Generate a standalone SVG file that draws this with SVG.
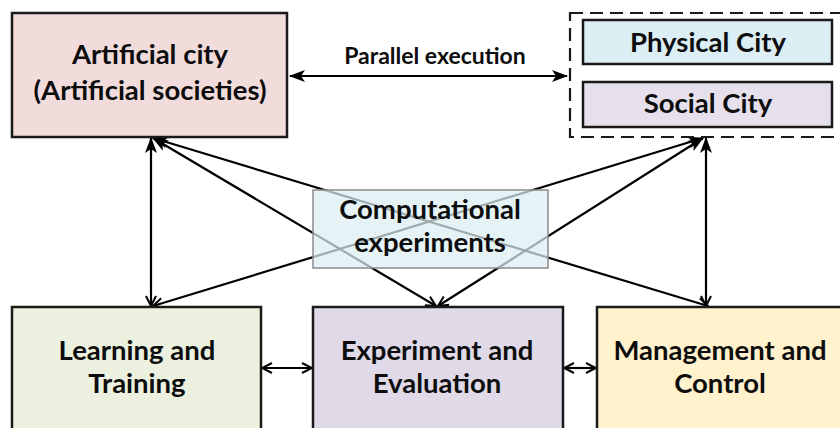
<svg xmlns="http://www.w3.org/2000/svg" width="840" height="428" viewBox="0 0 840 428">
  <style>
    .box { stroke: #1a1a1a; stroke-width: 2.5; }
    .lbl { font-family: Lato, "Open Sans", "Liberation Sans", sans-serif; font-weight: bold; font-size: 27.5px; fill: #0d0d0d; text-anchor: middle; }
    .small { font-size: 23px; }
    .wire { stroke: #000; stroke-width: 2.2; fill: none; }
  </style>
  <defs>
    <marker id="vhead" viewBox="0 0 12 12" refX="11" refY="6" markerWidth="12" markerHeight="12" markerUnits="userSpaceOnUse" orient="auto-start-reverse">
      <path d="M1,1 L11,6 L1,11" fill="none" stroke="#000" stroke-width="2"/>
    </marker>
    <marker id="tri" viewBox="0 0 16 12" refX="15" refY="6" markerWidth="16" markerHeight="12" markerUnits="userSpaceOnUse" orient="auto-start-reverse">
      <path d="M0,0 L16,6 L0,12 L4,6 Z" fill="#000"/>
    </marker>
  </defs>

  <rect width="840" height="428" fill="#fff"/>

  <!-- connectors -->
  <g id="connectors">
    <line class="wire" x1="290" y1="76" x2="567" y2="76" marker-start="url(#tri)" marker-end="url(#tri)"/>
    <!-- artificial city apex -->
    <line class="wire" x1="151" y1="306" x2="151" y2="138" marker-start="url(#vhead)" marker-end="url(#tri)"/>
    <line class="wire" x1="436" y1="306" x2="153" y2="138" marker-start="url(#vhead)" marker-end="url(#tri)"/>
    <line class="wire" x1="708" y1="306" x2="153" y2="138" marker-start="url(#vhead)" marker-end="url(#tri)"/>
    <!-- real city apex -->
    <line class="wire" x1="706" y1="306" x2="706" y2="138" marker-start="url(#vhead)" marker-end="url(#tri)"/>
    <line class="wire" x1="153" y1="306" x2="703" y2="138" marker-start="url(#vhead)" marker-end="url(#tri)"/>
    <line class="wire" x1="438" y1="306" x2="703" y2="138" marker-start="url(#vhead)" marker-end="url(#tri)"/>
    <!-- bottom row links -->
    <line class="wire" x1="262" y1="368" x2="312" y2="368" marker-start="url(#vhead)" marker-end="url(#vhead)"/>
    <line class="wire" x1="564" y1="368" x2="596" y2="368" marker-start="url(#vhead)" marker-end="url(#vhead)"/>
    <text class="lbl small" x="435" y="64">Parallel execution</text>
  </g>

  <g id="artificial-city">
    <rect class="box" x="12" y="13" width="275" height="124" fill="#f2dcdb"/>
    <text class="lbl" x="150" y="64">Artificial city</text>
    <text class="lbl" x="150" y="100">(Artificial societies)</text>
  </g>

  <g id="real-city">
    <rect x="570" y="13" width="280" height="124" fill="none" stroke="#1a1a1a" stroke-width="2.2" stroke-dasharray="13,7"/>
    <g id="physical-city">
      <rect class="box" x="583" y="20" width="249" height="44" fill="#dbeef4"/>
      <text class="lbl" x="708" y="52">Physical City</text>
    </g>
    <g id="social-city">
      <rect class="box" x="583" y="82" width="249" height="45" fill="#e5e0ec"/>
      <text class="lbl" x="708" y="113">Social City</text>
    </g>
  </g>

  <g id="computational-experiments">
    <rect x="313" y="190" width="235" height="78" fill="#dbeef3" fill-opacity="0.72" stroke="#8c8c8c" stroke-width="1.5"/>
    <text class="lbl" x="430" y="219">Computational</text>
    <text class="lbl" x="430" y="252">experiments</text>
  </g>

  <g id="learning-training">
    <rect class="box" x="12" y="307" width="249" height="140" fill="#ebf1de"/>
    <text class="lbl" x="137" y="360">Learning and</text>
    <text class="lbl" x="137" y="393">Training</text>
  </g>

  <g id="experiment-evaluation">
    <rect class="box" x="313" y="307" width="250" height="140" fill="#e0dae8"/>
    <text class="lbl" x="437" y="360">Experiment and</text>
    <text class="lbl" x="437" y="393">Evaluation</text>
  </g>

  <g id="management-control">
    <rect class="box" x="597" y="307" width="260" height="140" fill="#fff2cc"/>
    <text class="lbl" x="720" y="360">Management and</text>
    <text class="lbl" x="720" y="393">Control</text>
  </g>
</svg>
